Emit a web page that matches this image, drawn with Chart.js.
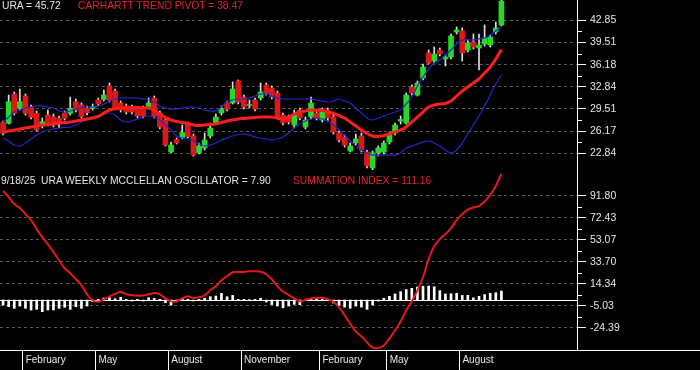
<!DOCTYPE html>
<html>
<head>
<meta charset="utf-8">
<title>URA weekly</title>
<script src="https://cdn.jsdelivr.net/npm/chart.js@4.4.1/dist/chart.umd.min.js"></script>
<style>
    html, body { margin: 0; padding: 0; background: #000; }
    #wrap { position: relative; width: 700px; height: 370px; overflow: hidden; background: #000; }
    #chart { display: block; }
    .lbl { position: absolute; font: 10.3px "Liberation Sans", Arial, sans-serif; line-height: 12px; white-space: pre; }
    .grey { color: #e4e4e4; }
    .red  { color: #e3262a; }
</style>
</head>
<body>
<div id="wrap">
    <canvas id="chart" width="700" height="370"></canvas>
    <div class="lbl grey" style="left:2px; top:0px;">URA = 45.72</div>
    <div class="lbl red"  style="left:78px; top:0px;">CARHARTT TREND PIVOT = 38.47</div>
    <div class="lbl grey" style="left:1px; top:175px;">9/18/25  URA WEEKLY MCCLELLAN OSCILLATOR = 7.90</div>
    <div class="lbl red"  style="left:293px; top:175px;">SUMMATION INDEX = 111.16</div>
</div>
<script>
/* ── DATA (weekly bars, week 0 = first week of Jan 2024) ───────── */
const opens = [
    27.45, 27.35, 31.76, 29.61, 31.46, 29.76, 28.86, 26.95, 28.60, 28.35,
    28.10, 28.86, 28.86, 30.60, 30.11, 29.61, 29.61, 30.86, 30.96, 32.96,
    32.21, 30.41, 29.96, 29.81, 29.50, 29.66, 29.81, 31.16, 28.90, 27.85,
    23.04, 24.92, 25.25, 27.35, 25.44, 22.89, 23.64, 25.44, 27.40, 28.90,
    30.41, 30.41, 33.72, 31.31, 30.03, 30.86, 31.16, 33.12, 32.66, 31.91,
    28.60, 28.30, 27.10, 29.35, 26.80, 28.30, 28.90, 27.85, 29.35, 28.30,
    25.89, 25.29, 23.19, 24.39, 25.44, 23.04, 20.63, 22.89, 23.04, 24.54,
    25.89, 27.70, 27.40, 32.81, 31.61, 34.17, 37.93, 36.73, 38.38, 37.03,
    37.33, 41.09, 41.24, 38.38, 39.59, 38.68, 39.28, 39.13, 41.09, 42.14
];
const highs = [
    27.70, 31.61, 32.06, 32.51, 31.76, 30.11, 29.20, 28.15, 29.35, 28.75,
    28.45, 29.20, 31.31, 31.01, 30.41, 29.96, 30.26, 31.16, 32.36, 33.42,
    32.51, 30.71, 30.26, 30.11, 29.81, 29.96, 31.16, 31.46, 29.20, 28.15,
    24.54, 25.14, 27.10, 27.55, 25.74, 24.39, 25.89, 27.40, 28.75, 29.96,
    30.71, 33.57, 33.87, 31.61, 30.86, 31.16, 33.42, 33.42, 32.96, 32.21,
    28.90, 28.60, 29.35, 29.66, 28.30, 31.31, 29.35, 29.66, 29.66, 28.60,
    26.19, 25.59, 24.39, 25.74, 25.89, 23.34, 23.19, 23.94, 24.69, 26.04,
    27.40, 28.45, 31.91, 33.12, 33.72, 36.28, 38.38, 38.83, 38.68, 37.63,
    40.79, 41.84, 41.69, 39.89, 40.79, 40.79, 42.14, 40.64, 42.59, 45.90
];
const lows = [
    25.59, 27.25, 28.60, 29.35, 28.60, 28.00, 26.19, 26.65, 26.95, 26.80,
    26.65, 27.85, 28.60, 29.05, 28.15, 28.60, 29.35, 29.96, 30.71, 30.56,
    29.35, 29.05, 28.75, 28.75, 28.15, 28.15, 29.50, 28.15, 26.50, 23.94,
    22.89, 24.24, 24.99, 25.14, 22.43, 22.73, 23.34, 25.14, 27.25, 28.60,
    29.20, 30.26, 30.26, 29.50, 29.66, 29.20, 30.86, 31.61, 31.01, 28.00,
    27.10, 27.25, 26.65, 27.85, 26.50, 28.00, 27.85, 27.55, 27.70, 25.74,
    24.54, 23.79, 23.04, 24.09, 23.04, 20.63, 19.88, 22.43, 22.73, 24.24,
    25.59, 27.25, 27.25, 31.61, 31.46, 33.87, 36.28, 36.43, 37.48, 35.97,
    37.03, 40.79, 36.73, 38.08, 38.53, 35.37, 38.98, 38.83, 40.79, 41.99
];
const closes = [
    25.85, 30.60, 28.86, 30.60, 28.86, 28.25, 26.35, 27.59, 27.25, 27.10,
    27.25, 28.10, 29.61, 29.35, 28.35, 28.95, 29.85, 30.26, 31.61, 30.86,
    29.66, 29.35, 29.05, 29.05, 28.45, 28.45, 30.41, 28.45, 26.80, 24.09,
    24.09, 24.39, 25.97, 25.37, 22.58, 23.94, 24.84, 26.65, 28.30, 29.50,
    29.50, 32.51, 30.56, 29.81, 30.18, 29.50, 32.06, 31.91, 31.31, 28.30,
    27.40, 27.55, 28.60, 28.15, 27.85, 30.41, 28.15, 29.05, 28.15, 26.04,
    24.84, 24.09, 23.94, 24.99, 23.34, 20.93, 22.89, 23.64, 24.39, 25.59,
    27.10, 27.93, 31.61, 31.91, 33.42, 35.82, 36.43, 37.78, 37.78, 37.33,
    40.49, 41.39, 37.93, 39.43, 38.83, 39.13, 40.19, 40.34, 41.69, 45.72
];
const trendPivot = [
    26.04, 26.19, 26.35, 26.50, 26.65, 26.80, 26.95, 27.10, 27.17, 27.25,
    27.40, 27.47, 27.55, 27.70, 27.85, 28.00, 28.15, 28.38, 28.90, 29.35,
    29.58, 29.66, 29.66, 29.73, 29.73, 29.66, 29.66, 29.35, 28.75, 28.23,
    27.85, 27.62, 27.47, 27.32, 27.10, 27.02, 27.10, 27.17, 27.25, 27.47,
    27.70, 27.85, 28.00, 28.08, 28.15, 28.23, 28.30, 28.30, 28.30, 28.15,
    28.00, 28.30, 28.75, 29.05, 29.20, 29.35, 29.35, 29.28, 29.05, 28.83,
    28.53, 28.15, 27.55, 26.95, 26.35, 25.82, 25.44, 25.37, 25.52, 25.74,
    26.04, 26.35, 26.80, 27.55, 28.30, 29.05, 29.81, 30.11, 30.26, 30.33,
    30.71, 31.46, 32.21, 32.81, 33.42, 34.02, 34.92, 35.82, 37.03, 38.47
];
const upperBand = [
    27.55, 28.30, 29.05, 29.35, 29.66, 29.81, 29.96, 29.96, 29.81, 29.66,
    29.20, 29.05, 29.20, 29.50, 29.66, 29.81, 29.81, 29.96, 30.26, 30.71,
    31.01, 31.16, 31.16, 31.16, 31.16, 31.01, 30.86, 30.56, 29.96, 29.66,
    29.50, 29.50, 29.66, 29.81, 29.81, 29.66, 29.35, 29.20, 29.20, 29.81,
    30.56, 30.86, 31.01, 31.01, 31.16, 31.46, 31.76, 31.76, 31.46, 31.16,
    31.01, 31.01, 31.01, 31.01, 31.01, 31.01, 30.86, 30.71, 30.56, 30.71,
    31.01, 30.71, 30.41, 29.66, 28.90, 28.15, 27.85, 28.15, 28.45, 28.75,
    29.05, 29.35, 30.26, 31.31, 32.96, 34.32, 35.52, 36.43, 36.88, 37.63,
    38.38, 39.28, 39.89, 39.89, 39.89, 40.04, 40.19, 40.64, 41.24, 41.84
];
const lowerBand = [
    25.14, 24.69, 24.09, 23.94, 24.39, 24.99, 25.59, 26.04, 26.35, 26.50,
    26.65, 26.72, 26.80, 27.10, 27.55, 28.00, 28.30, 28.53, 28.75, 28.90,
    28.60, 27.85, 27.55, 27.70, 28.00, 28.30, 28.45, 28.30, 27.85, 27.10,
    26.35, 25.44, 25.14, 24.99, 24.69, 24.24, 23.94, 24.09, 24.39, 24.84,
    25.14, 25.44, 25.67, 25.74, 25.59, 25.29, 25.14, 24.99, 24.84, 24.99,
    25.29, 25.89, 26.65, 27.25, 27.70, 28.00, 28.15, 28.00, 27.70, 27.10,
    26.35, 25.59, 24.69, 23.94, 23.34, 22.89, 22.58, 22.58, 22.58, 22.58,
    22.58, 22.89, 23.64, 23.94, 24.24, 24.54, 24.69, 24.39, 23.94, 23.34,
    22.89, 23.34, 24.39, 25.74, 27.10, 28.45, 29.96, 31.61, 33.27, 34.62
];
const summationIndex = [
    95.95, 90.65, 84.47, 80.94, 75.64, 70.34, 62.40, 55.33, 49.15, 42.09,
    35.03, 27.96, 23.55, 18.25, 12.95, 5.01, -0.29, -1.61, 0.59, 3.24,
    5.45, 7.04, 5.01, 4.12, 3.86, 3.95, 5.01, 6.16, 5.01, 1.47,
    -1.18, -1.18, 1.47, 3.24, 1.91, 2.36, 4.12, 8.54, 12.07, 17.37,
    20.90, 24.43, 24.70, 24.70, 25.32, 25.32, 24.87, 22.67, 18.25, 12.07,
    7.22, 4.57, 1.47, -1.18, 0.15, 1.30, 1.91, 1.91, 0.77, -1.61,
    -6.47, -13.53, -21.04, -27.66, -32.07, -37.37, -41.78, -42.22, -40.02, -33.84,
    -26.78, -18.83, -9.12, -1.18, 8.54, 20.02, 35.91, 47.39, 53.57, 57.98,
    63.28, 70.34, 75.64, 79.61, 81.38, 82.70, 86.68, 92.42, 100.36, 111.16
];
const oscillator = [
    -4.4, -5.9, -7.3, -5.3, -7.3, -8.8, -8.2, -10.3, -8.8, -8.8,
    -7.3, -6.4, -8.2, -5.9, -7.3, -5.3, -1.5, 0.6, 1.8, 2.0,
    1.1, 2.4, 0.6, -0.9, 0.6, -0.9, 2.0, 1.5, 0.6, -2.4,
    -4.4, -1.5, 1.1, 0.6, -0.9, 0.6, 1.5, 2.9, 3.5, 5.9,
    2.9, 4.1, 0.6, 0.6, 0.3, 0.6, 1.5, -1.8, -4.0, -5.3,
    -6.9, -5.3, -3.8, -4.1, -0.4, 1.5, 1.1, 0.9, 0.4, -2.6,
    -4.8, -6.2, -7.3, -5.3, -6.2, -8.2, -4.4, -0.9, 1.5, 3.3,
    5.3, 7.3, 9.2, 10.3, 11.4, 12.1, 12.3, 11.7, 8.2, 5.3,
    5.5, 5.9, 4.0, 4.1, 1.9, 3.3, 4.8, 5.9, 6.4, 7.9
];

const priceTicks = [22.84, 26.17, 29.51, 32.84, 36.18, 39.51, 42.85];
const oscTicks   = [-24.39, -5.03, 14.34, 33.70, 53.07, 72.43, 91.80];
const monthTickWeeks  = [4, 17, 30, 43, 57, 69, 82];
const monthTickLabels = ['February', 'May', 'August', 'November', 'February', 'May', 'August'];

/* ── STYLE ────────────────────────────────────────────────────── */
const WHITE = '#ffffff';
const GRID  = '#595959';
const TEXT  = '#e6e6e6';
const UP    = '#27d827';
const DOWN  = '#dc1818';
const AXIS_W = 123;

Chart.defaults.font.family = '"Liberation Sans", Arial, sans-serif';
Chart.defaults.font.size = 10.5;
Chart.defaults.color = TEXT;

const xy = arr => arr.map((v, i) => ({ x: i, y: v }));

/* zero line, minor ticks and the full-width bottom rule */
const panelExtras = {
    id: 'panelExtras',
    beforeDatasetsDraw(chart) {
        const { ctx, chartArea, scales } = chart;
        const y0 = Math.round(scales.yOsc.getPixelForValue(0)) + 0.5;
        ctx.save();
        ctx.strokeStyle = WHITE;
        ctx.lineWidth = 1;
        ctx.beginPath();
        ctx.moveTo(chartArea.left, y0);
        ctx.lineTo(chartArea.right, y0);
        ctx.stroke();
        ctx.restore();
    },
    afterDraw(chart) {
        const { ctx, chartArea, scales } = chart;
        ctx.save();
        ctx.strokeStyle = WHITE;
        ctx.lineWidth = 1;
        const yb = Math.round(chartArea.bottom) + 0.5;
        ctx.beginPath();
        ctx.moveTo(chartArea.right, yb);
        ctx.lineTo(chart.width, yb);
        ctx.stroke();
        [scales.yPrice, scales.yOsc].forEach(s => {
            const vals = s.ticks.map(t => t.value);
            for (let i = 1; i < vals.length; i++) {
                const y = Math.round(s.getPixelForValue((vals[i - 1] + vals[i]) / 2)) + 0.5;
                ctx.beginPath();
                ctx.moveTo(s.left, y);
                ctx.lineTo(s.left + 5, y);
                ctx.stroke();
            }
        });
        ctx.restore();
    }
};

function yAxis(ticks, min, max, weight, order) {
    return {
        type: 'linear',
        position: 'right',
        stack: 'panels',
        stackWeight: weight,
        weight: order,
        min: min,
        max: max,
        afterBuildTicks: s => { s.ticks = ticks.map(v => ({ value: v })); },
        afterFit: s => { s.width = AXIS_W; s.paddingTop = 0; s.paddingBottom = 0; },
        grid: { color: GRID, lineWidth: 1, drawTicks: true, tickLength: 9, tickColor: WHITE },
        border: { display: true, color: WHITE, width: 1, dash: [3, 3] },
        ticks: { color: TEXT, padding: 4, autoSkip: false, callback: v => Number(v).toFixed(2) }
    };
}

new Chart(document.getElementById('chart'), {
    type: 'bar',
    data: {
        datasets: [
            {
                type: 'line', label: 'Trend pivot', yAxisID: 'yPrice', order: 0,
                data: xy(trendPivot), borderColor: '#ff1e1e', borderWidth: 3,
                pointRadius: 0, tension: 0.35, fill: false
            },
            {
                type: 'line', label: 'Upper', yAxisID: 'yPrice', order: 1,
                data: xy(upperBand), borderColor: '#2626d2', borderWidth: 1.2,
                pointRadius: 0, tension: 0.3, fill: false
            },
            {
                type: 'line', label: 'Lower', yAxisID: 'yPrice', order: 1,
                data: xy(lowerBand), borderColor: '#2626d2', borderWidth: 1.2,
                pointRadius: 0, tension: 0.3, fill: false
            },
            {
                label: 'Body', yAxisID: 'yPrice', order: 2, grouped: false,
                data: opens.map((o, i) => ({ x: i, y: [o, closes[i]] })),
                backgroundColor: c => closes[c.dataIndex] >= opens[c.dataIndex] ? UP : DOWN,
                barThickness: 5, minBarLength: 1, borderWidth: 0
            },
            {
                label: 'Wick', yAxisID: 'yPrice', order: 3, grouped: false,
                data: highs.map((h, i) => ({ x: i, y: [lows[i], h] })),
                backgroundColor: '#e0e0e0', barThickness: 1, borderWidth: 0
            },
            {
                type: 'line', label: 'Summation', yAxisID: 'yOsc', order: 0,
                data: xy(summationIndex), borderColor: '#e41a1a', borderWidth: 2,
                pointRadius: 0, tension: 0.35, fill: false
            },
            {
                label: 'Oscillator', yAxisID: 'yOsc', order: 1, grouped: false,
                data: xy(oscillator), backgroundColor: WHITE, barThickness: 2, borderWidth: 0
            }
        ]
    },
    options: {
        responsive: false,
        animation: false,
        devicePixelRatio: 1,
        layout: { padding: 0 },
        plugins: { legend: { display: false }, tooltip: { enabled: false } },
        scales: {
            x: {
                type: 'linear',
                position: 'bottom',
                min: -0.55,
                max: 102.5,
                offset: false,
                afterBuildTicks: s => { s.ticks = monthTickWeeks.map(w => ({ value: w - 0.5 })); },
                afterFit: s => { s.height = 20; s.paddingLeft = 0; s.paddingRight = 0; },
                grid: { drawOnChartArea: false, drawTicks: true, tickLength: 20, tickColor: WHITE, color: WHITE, offset: false },
                border: { display: true, color: WHITE, width: 1 },
                ticks: {
                    autoSkip: false, maxRotation: 0, minRotation: 0,
                    align: 'start', labelOffset: 3, padding: -16,
                    color: TEXT, font: { size: 10 },
                    callback: (v, i) => monthTickLabels[i]
                }
            },
            yPrice: yAxis(priceTicks, 20.33, 45.90, 170, 0),
            yOsc: yAxis(oscTicks, -44.0, 114.43, 180, 1)
        }
    },
    plugins: [panelExtras]
});
</script>
</body>
</html>
